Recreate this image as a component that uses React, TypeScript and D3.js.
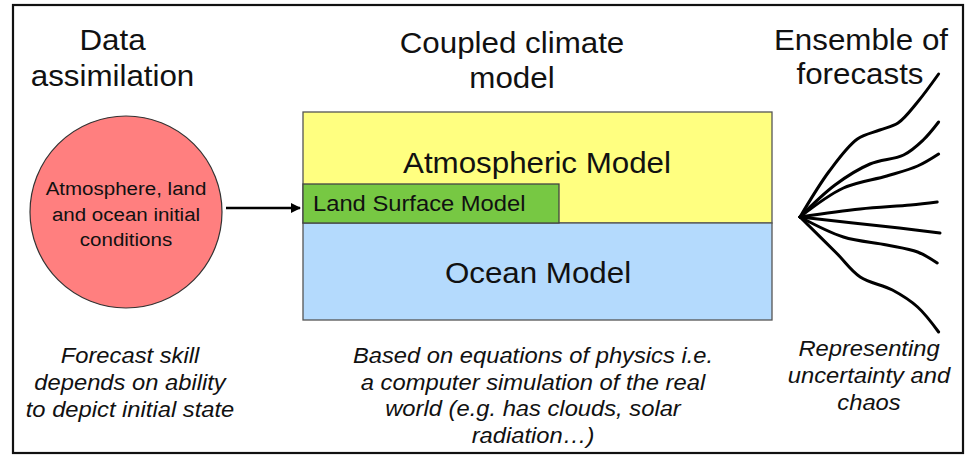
import React from "react";
import * as d3 from "d3";

// ---- Content ----
const headerDA = ["Data", "assimilation"];
const headerCM = ["Coupled climate", "model"];
const headerEF = ["Ensemble of", "forecasts"];
const circleText = ["Atmosphere, land", "and ocean initial", "conditions"];
const boxLabels = ["Atmospheric Model", "Land Surface Model", "Ocean Model"];
const noteLeft = ["Forecast skill", "depends on ability", "to depict initial state"];
const noteMid = [
  "Based on equations of physics i.e.",
  "a computer simulation of the real",
  "world (e.g. has clouds, solar",
  "radiation\u2026)",
];
const noteRight = ["Representing", "uncertainty and", "chaos"];

// Ensemble members: [lead time, anomaly]
const member1: [number, number][] = [[0, 0], [2.1, 4.6], [4.1, 7.8], [5.7, 8.7], [7, 9.4], [8.4, 11.5], [9.9, 14.3]];
const member2: [number, number][] = [[0, 0], [2.5, 3.2], [5, 5.3], [7.4, 6.2], [8.8, 7.7], [9.9, 9.5]];
const member3: [number, number][] = [[0, 0], [3.1, 2.9], [6.2, 4.1], [8.4, 5.1], [9.9, 6.3]];
const member4: [number, number][] = [[0, 0], [4.3, 0.8], [7.9, 1.2], [9.8, 1.5]];
const member5: [number, number][] = [[0, 0], [3.8, -0.6], [7.1, -1.1], [10, -1.6]];
const member6: [number, number][] = [[0, 0], [3.1, -2.0], [6.2, -2.8], [8.4, -3.5], [9.8, -4.6]];
const member7: [number, number][] = [[0, 0], [2.6, -3.6], [4.3, -6.0], [6.6, -7.3], [8.4, -9.0], [9.9, -11.5]];
const members = [member1, member2, member3, member4, member5, member6, member7];

const FONT = '"Liberation Sans", Arial, Helvetica, sans-serif';
const SX = 1.08;

function T({ x, y, size, anchor = "middle", italic = false, children }: any) {
  return (
    <text
      transform={`translate(${x},${y}) scale(${SX},1)`}
      fontFamily={FONT}
      fontSize={size}
      fontStyle={italic ? "italic" : "normal"}
      textAnchor={anchor}
      fill="#111"
    >
      {children}
    </text>
  );
}

export default function App() {
  const W = 973;
  const H = 456;
  const xs = d3.scaleLinear().domain([0, 10]).range([800, 940]);
  const ys = d3.scaleLinear().domain([0, 10]).range([217, 117]);
  const line = d3
    .line<[number, number]>()
    .x((d) => xs(d[0]))
    .y((d) => ys(d[1]))
    .curve(d3.curveCatmullRom.alpha(0.5));

  return (
    <svg
      width={W}
      height={H}
      style={{ position: "absolute", left: 0, top: 0, background: "#fff" }}
    >
      <defs>
        <marker id="ah" viewBox="0 0 10 10" refX="9" refY="5" markerWidth="4" markerHeight="4" orient="auto">
          <path d="M0,0 L10,5 L0,10 z" fill="#000" />
        </marker>
      </defs>
      <rect x={0} y={0} width={W} height={H} fill="#fff" />
      {/* outer frame */}
      <rect x={13} y={5} width={950} height={448} fill="none" stroke="#111" strokeWidth={2.2} />

      {/* headers */}
      <T x={112.5} y={50} size={29}>{headerDA[0]}</T>
      <T x={112.5} y={86} size={29}>{headerDA[1]}</T>
      <T x={512} y={53} size={29}>{headerCM[0]}</T>
      <T x={512} y={88} size={29}>{headerCM[1]}</T>
      <T x={861} y={50} size={29}>{headerEF[0]}</T>
      <T x={860} y={84} size={29}>{headerEF[1]}</T>

      {/* circle */}
      <circle cx={126} cy={212} r={96} fill="#ff7f7f" stroke="#333" strokeWidth={1.2} />
      {circleText.map((t, i) => (
        <T key={i} x={126} y={195 + i * 25.5} size={19}>{t}</T>
      ))}

      {/* arrow */}
      <line x1={226} y1={208} x2={300} y2={208} stroke="#000" strokeWidth={2.5} markerEnd="url(#ah)" />

      {/* model boxes */}
      <rect x={303} y={112} width={469} height={111} fill="#ffff80" stroke="#555" strokeWidth={1.3} />
      <rect x={303} y={223} width={469} height={97} fill="#b4dafd" stroke="#555" strokeWidth={1.3} />
      <rect x={303} y={184} width={256} height={39} fill="#77c843" stroke="#444" strokeWidth={1.3} />
      <T x={537} y={173} size={29}>{boxLabels[0]}</T>
      <T x={313} y={211} size={22} anchor="start">{boxLabels[1]}</T>
      <T x={538} y={283} size={29}>{boxLabels[2]}</T>

      {/* ensemble fan */}
      {members.map((m, i) => (
        <path key={i} d={line(m) || ""} fill="none" stroke="#000" strokeWidth={3} strokeLinecap="round" />
      ))}

      {/* notes */}
      {noteLeft.map((t, i) => (
        <T key={i} x={130} y={363 + i * 27} size={22} italic>{t}</T>
      ))}
      {noteMid.map((t, i) => (
        <T key={i} x={533} y={363 + i * 26.7} size={22} italic>{t}</T>
      ))}
      {noteRight.map((t, i) => (
        <T key={i} x={869} y={356 + i * 27} size={22} italic>{t}</T>
      ))}
    </svg>
  );
}
